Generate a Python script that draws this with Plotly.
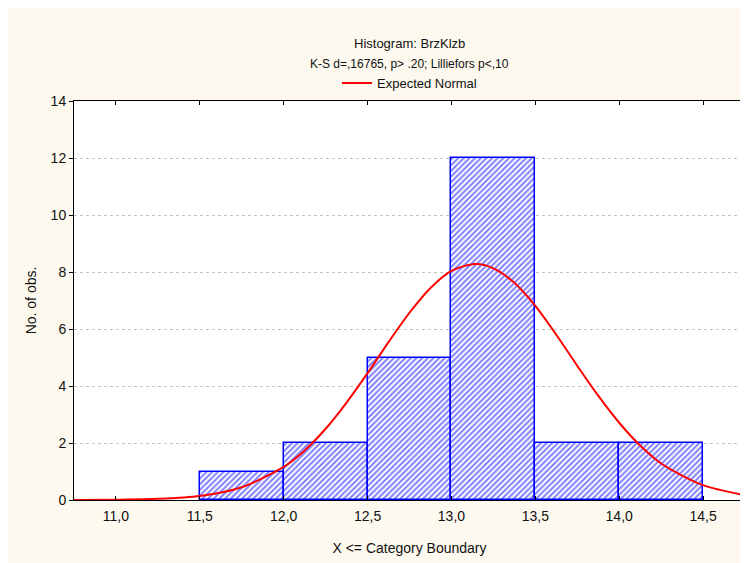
import plotly.graph_objects as go

# Histogram bins (lower boundary) and counts
BIN_LOWER = [11.5, 12.0, 12.5, 13.0, 13.5, 14.0]
COUNTS = [1, 2, 5, 12, 2, 2]
BIN_WIDTH = 0.5

# Expected normal curve
CURVE_X = [10.75, 11.0, 11.25, 11.5, 11.75, 12.0, 12.125, 12.25, 12.375, 12.5,
           12.625, 12.75, 12.875, 13.0, 13.14, 13.25, 13.375, 13.5, 13.625,
           13.75, 13.875, 14.0, 14.125, 14.25, 14.5, 14.75]
CURVE_Y = [0.0, 0.01, 0.04, 0.14, 0.45, 1.16, 1.74, 2.5, 3.42, 4.45,
           5.54, 6.57, 7.44, 8.04, 8.28, 8.13, 7.62, 6.81, 5.8,
           4.71, 3.66, 2.71, 1.91, 1.28, 0.52, 0.17]

X_TICKS = [11.0, 11.5, 12.0, 12.5, 13.0, 13.5, 14.0, 14.5]
X_TICK_TEXT = ["11,0", "11,5", "12,0", "12,5", "13,0", "13,5", "14,0", "14,5"]
Y_TICKS = [0, 2, 4, 6, 8, 10, 12, 14]

FONT = "Liberation Sans, Arial, sans-serif"
CREAM = "#FDF9EF"

centers = [b + BIN_WIDTH / 2 for b in BIN_LOWER]

fig = go.Figure()
fig.add_trace(go.Bar(
    x=centers, y=COUNTS, width=BIN_WIDTH,
    marker=dict(color="white", line=dict(color="#0000FF", width=1.5),
                pattern=dict(shape="/", fgcolor="#0000FF", bgcolor="white",
                             size=4, solidity=0.5)),
    showlegend=False, hoverinfo="x+y",
))
fig.add_trace(go.Scatter(
    x=CURVE_X, y=CURVE_Y, mode="lines", name="Expected Normal",
    line=dict(color="#FF0000", width=2, shape="spline", smoothing=0.8),
))

fig.add_annotation(text="Histogram: BrzKlzb", xref="paper", yref="paper",
                   x=0.5, y=1.143, showarrow=False, yanchor="middle",
                   font=dict(size=13, color="#111"))
fig.add_annotation(text="K-S d=,16765, p> .20; Lilliefors p<,10", xref="paper",
                   yref="paper", x=0.5, y=1.093, showarrow=False,
                   yanchor="middle", font=dict(size=12, color="#111"))

fig.update_layout(
    width=748, height=563,
    margin=dict(l=66, r=11, t=93, b=71),
    paper_bgcolor=CREAM,
    plot_bgcolor="white",
    font=dict(family=FONT, size=14, color="#111"),
    separators=",.",
    bargap=0,
    legend=dict(orientation="h", x=0.5, xanchor="center", y=1.045,
                yanchor="middle", bgcolor="rgba(0,0,0,0)",
                font=dict(size=13), itemwidth=30),
    xaxis=dict(
        range=[10.75, 14.75], tickvals=X_TICKS, ticktext=X_TICK_TEXT,
        showgrid=False, zeroline=False, showline=True, linecolor="black",
        linewidth=1, mirror="ticks", ticks="inside", ticklen=4,
        tickcolor="black", ticklabelstandoff=3, automargin=False,
        title=dict(text="X <= Category Boundary", font=dict(size=14),
                   standoff=20),
    ),
    yaxis=dict(
        range=[0, 14], tickvals=Y_TICKS, showgrid=True, gridcolor="#C4C4C4",
        griddash="dot", gridwidth=1, zeroline=False, showline=True,
        linecolor="black", linewidth=1, mirror=True, ticks="outside",
        ticklen=4, tickcolor="black", automargin=False,
        title=dict(text="No. of obs.", font=dict(size=14), standoff=10),
    ),
)

fig.write_html("out.html")
